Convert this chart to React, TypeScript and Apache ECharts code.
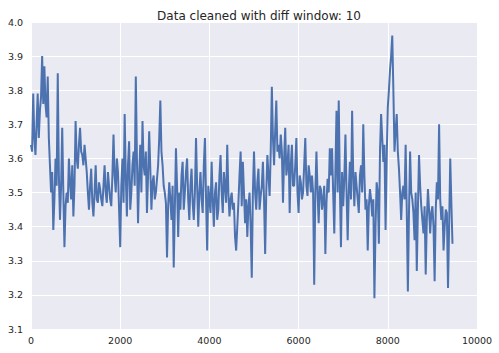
import React, { useEffect, useRef } from "react";
import * as echarts from "echarts";

const TITLE = "Data cleaned with diff window: 10";
const SAMPLE_STEP = 25; // index spacing between samples
const values: number[] = [
  3.64, 3.62, 3.79, 3.66, 3.61, 3.70, 3.79, 3.66, 3.74, 3.78,
  3.90, 3.76, 3.87, 3.76, 3.72, 3.84, 3.66, 3.58, 3.50, 3.56,
  3.39, 3.48, 3.60, 3.52, 3.85, 3.55, 3.42, 3.52, 3.69, 3.50,
  3.34, 3.46, 3.50, 3.47, 3.60, 3.53, 3.48, 3.58, 3.43, 3.52,
  3.71, 3.60, 3.57, 3.64, 3.69, 3.62, 3.61, 3.58, 3.64, 3.60,
  3.56, 3.50, 3.45, 3.52, 3.57, 3.47, 3.43, 3.50, 3.58, 3.48,
  3.47, 3.53, 3.51, 3.48, 3.46, 3.52, 3.58, 3.50, 3.47, 3.56,
  3.52, 3.48, 3.46, 3.55, 3.67, 3.55, 3.50, 3.60, 3.56, 3.45,
  3.34, 3.52, 3.60, 3.47, 3.73, 3.55, 3.43, 3.58, 3.65, 3.45,
  3.50, 3.58, 3.62, 3.52, 3.84, 3.60, 3.41, 3.55, 3.64, 3.50,
  3.71, 3.58, 3.55, 3.62, 3.44, 3.55, 3.68, 3.57, 3.45, 3.53,
  3.55, 3.48, 3.50, 3.54, 3.58, 3.66, 3.77, 3.62, 3.58, 3.52,
  3.50, 3.47, 3.31, 3.46, 3.53, 3.48, 3.42, 3.52, 3.28, 3.45,
  3.63, 3.52, 3.37, 3.50, 3.45, 3.55, 3.59, 3.45, 3.50, 3.56,
  3.60, 3.48, 3.42, 3.52, 3.57, 3.47, 3.42, 3.50, 3.66, 3.52,
  3.40, 3.50, 3.56, 3.48, 3.44, 3.58, 3.66, 3.48, 3.33, 3.52,
  3.48, 3.44, 3.59, 3.48, 3.40, 3.50, 3.53, 3.42, 3.45, 3.55,
  3.61, 3.50, 3.44, 3.56, 3.52, 3.47, 3.64, 3.50, 3.43, 3.48,
  3.50, 3.45, 3.47, 3.37, 3.33, 3.40, 3.47, 3.55, 3.62, 3.46,
  3.59, 3.50, 3.41, 3.48, 3.37, 3.46, 3.50, 3.40, 3.25, 3.50,
  3.62, 3.50, 3.45, 3.53, 3.57, 3.45, 3.49, 3.52, 3.59, 3.48,
  3.32, 3.50, 3.61, 3.55, 3.49, 3.62, 3.81, 3.66, 3.58, 3.68,
  3.77, 3.62, 3.64, 3.60, 3.67, 3.62, 3.47, 3.60, 3.69, 3.55,
  3.58, 3.64, 3.44, 3.58, 3.64, 3.52, 3.52, 3.58, 3.66, 3.50,
  3.44, 3.55, 3.53, 3.48, 3.50, 3.58, 3.66, 3.52, 3.49, 3.58,
  3.55, 3.50, 3.55, 3.50, 3.23, 3.50, 3.62, 3.50, 3.41, 3.52,
  3.51, 3.45, 3.48, 3.52, 3.32, 3.47, 3.54, 3.50, 3.63, 3.55,
  3.63, 3.50, 3.38, 3.56, 3.74, 3.50, 3.77, 3.52, 3.34, 3.56,
  3.46, 3.54, 3.67, 3.50, 3.36, 3.50, 3.59, 3.48, 3.74, 3.55,
  3.46, 3.56, 3.52, 3.48, 3.44, 3.55, 3.58, 3.50, 3.70, 3.55,
  3.45, 3.48, 3.33, 3.46, 3.51, 3.48, 3.43, 3.48, 3.19, 3.40,
  3.53, 3.50, 3.35, 3.62, 3.73, 3.66, 3.59, 3.64, 3.39, 3.60,
  3.75, 3.80, 3.86, 3.90, 3.96, 3.80, 3.62, 3.68, 3.73, 3.62,
  3.57, 3.50, 3.42, 3.50, 3.52, 3.48, 3.64, 3.45, 3.21, 3.44,
  3.62, 3.50, 3.48, 3.44, 3.36, 3.50, 3.27, 3.45, 3.61, 3.52,
  3.46, 3.42, 3.38, 3.46, 3.26, 3.42, 3.51, 3.45, 3.38, 3.44,
  3.46, 3.40, 3.24, 3.45, 3.53, 3.48, 3.70, 3.48, 3.42, 3.46,
  3.33, 3.40, 3.45, 3.44, 3.22, 3.40, 3.60, 3.47, 3.35,
];
const xTicks = { min: 0, max: 10000, interval: 2000 };
const yTicks = { min: 3.1, max: 4.0, interval: 0.1 };

const FONT = "DejaVu Sans";
const TEXT_COLOR = "#262626";

export default function App() {
  const ref = useRef<HTMLDivElement>(null);
  useEffect(() => {
    if (!ref.current) return;
    const chart = echarts.init(ref.current, undefined, { renderer: "svg" });
    const data = values.map((v, i) => [i * SAMPLE_STEP, v]);
    chart.setOption({
      animation: false,
      backgroundColor: "#ffffff",
      title: {
        text: TITLE,
        left: 254,
        textAlign: "center",
        top: 5,
        textStyle: { fontFamily: FONT, fontSize: 12, fontWeight: "normal", color: TEXT_COLOR },
      },
      grid: {
        left: 31,
        right: 22,
        top: 22,
        bottom: 24,
        show: true,
        backgroundColor: "#EAEAF2",
        borderWidth: 0,
      },
      xAxis: {
        type: "value",
        min: xTicks.min,
        max: xTicks.max,
        interval: xTicks.interval,
        axisLine: { show: false },
        axisTick: { show: false },
        splitLine: { show: true, lineStyle: { color: "#ffffff", width: 1 } },
        axisLabel: {
          fontFamily: FONT,
          fontSize: 9.5,
          color: TEXT_COLOR,
          margin: 6,
          showMinLabel: true,
          showMaxLabel: true,
          formatter: (v: number) => String(v),
        },
      },
      yAxis: {
        type: "value",
        min: yTicks.min,
        max: yTicks.max,
        interval: yTicks.interval,
        axisLine: { show: false },
        axisTick: { show: false },
        splitLine: { show: true, lineStyle: { color: "#ffffff", width: 1 } },
        axisLabel: {
          fontFamily: FONT,
          fontSize: 9.5,
          color: TEXT_COLOR,
          margin: 8,
          showMinLabel: true,
          showMaxLabel: true,
          formatter: (v: number) => v.toFixed(1),
        },
      },
      series: [
        {
          type: "line",
          data,
          showSymbol: false,
          symbol: "none",
          lineStyle: { color: "#4C72B0", width: 2 },
          z: 3,
        },
      ],
    });
    return () => chart.dispose();
  }, []);
  return (
    <div
      ref={ref}
      style={{ position: "absolute", left: 0, top: 0, width: 499, height: 353 }}
    />
  );
}
